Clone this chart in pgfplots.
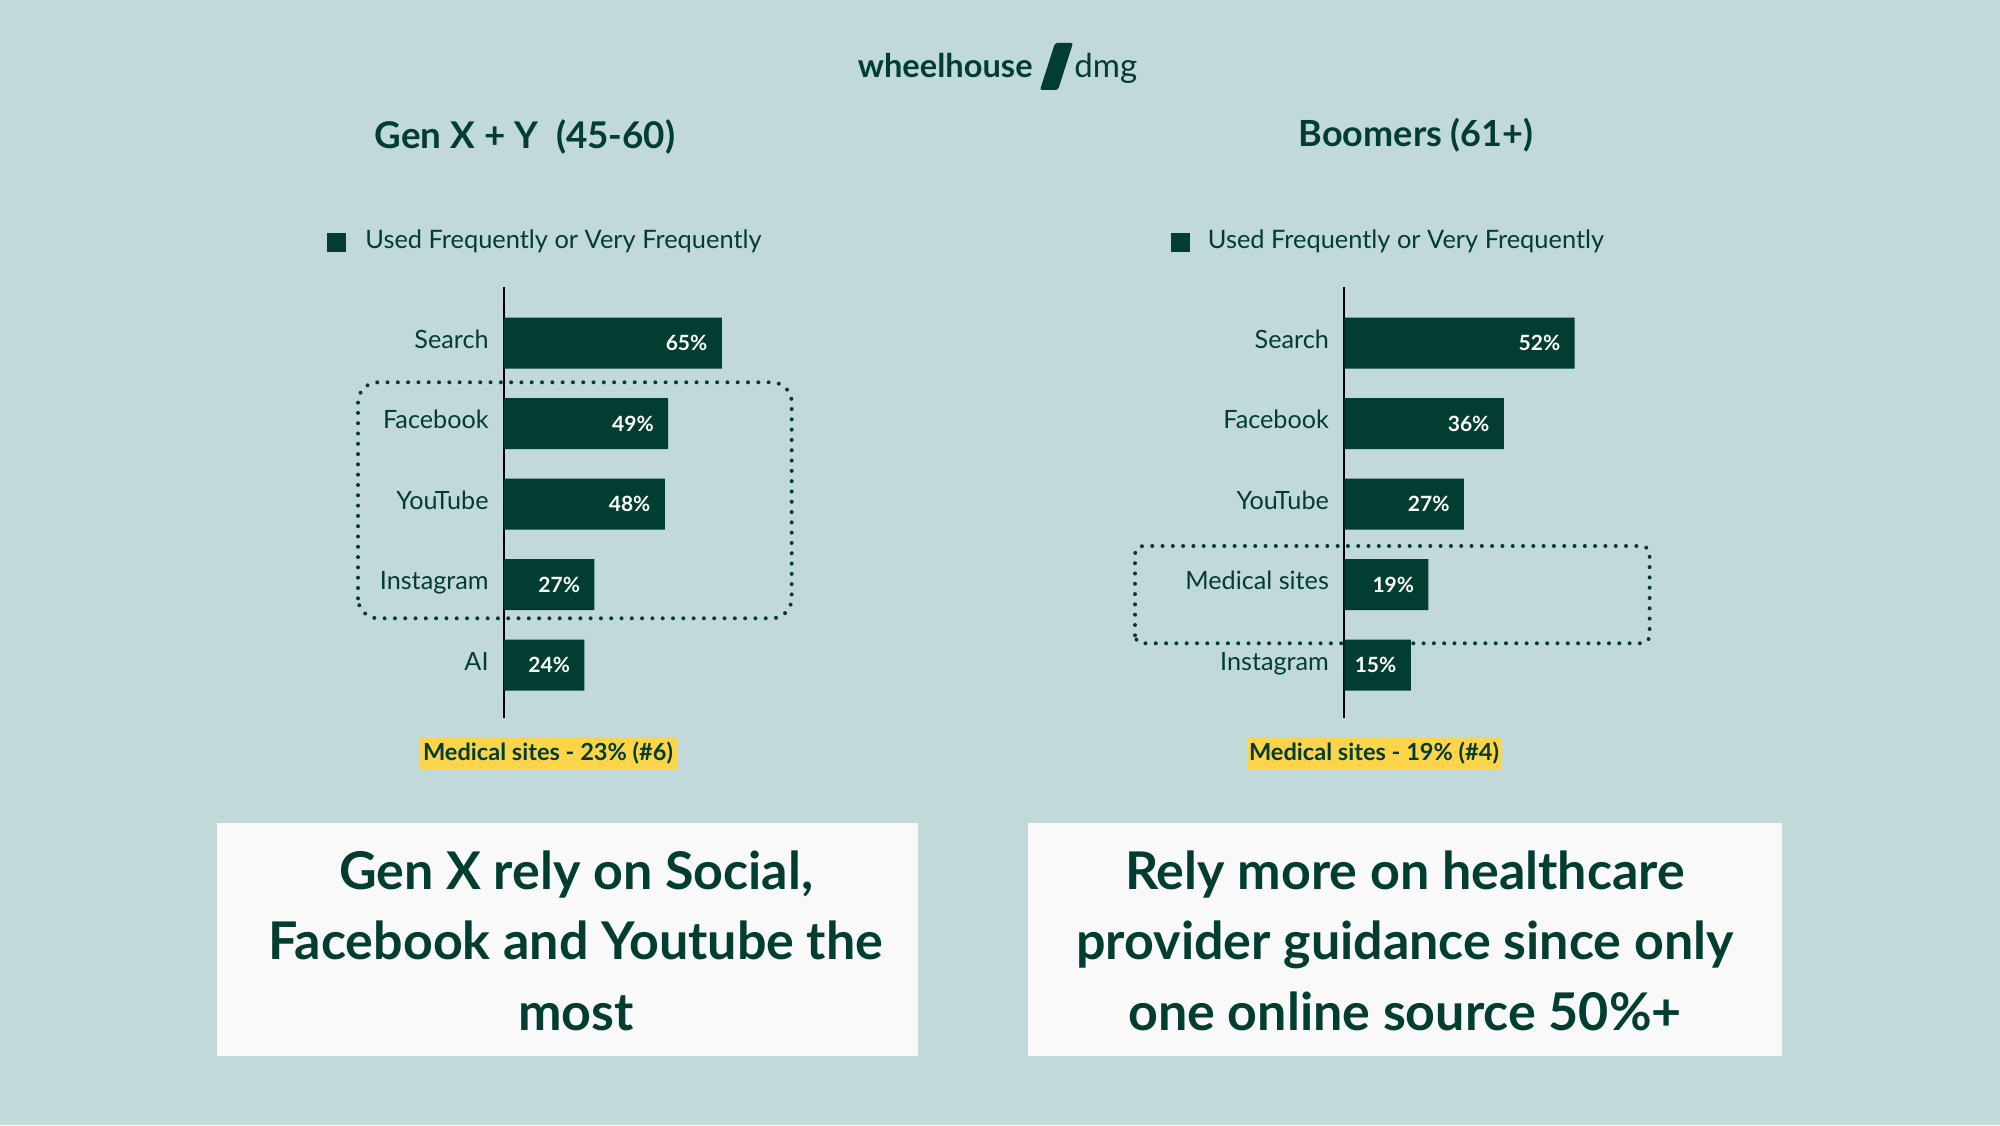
\documentclass[border=0pt]{standalone}
\usepackage{fontspec}
\setmainfont{Lato}
\usepackage{pgfplots}
\usepackage{pgfplotstable}
\pgfplotsset{compat=1.18}
\definecolor{bg}{HTML}{C1D9D9}
\definecolor{dk}{HTML}{013D31}
\definecolor{yl}{HTML}{FDD44A}
\definecolor{wb}{HTML}{F9F9F9}

\pgfplotstableread{
y val
0 65
1 49
2 48
3 27
4 24
}\leftdata
\pgfplotstableread{
y val
0 52
1 36
2 27
3 19
4 15
}\rightdata

\pgfplotsset{mybar/.style={
  scale only axis, xbar, bar width=25.5pt, height=215.8pt,
  xmin=0, xmax=100, ymin=-0.7, ymax=4.66, y dir=reverse,
  axis x line=none, axis y line*=left,
  y axis line style={black, line width=1pt},
  ytick={0,1,2,3,4}, major tick length=0pt, ytick style={draw=none},
  yticklabel style={anchor=east, inner sep=0pt, xshift=-7.5pt, yshift=2pt,
    font=\fontsize{12.6}{14}\selectfont, text=dk, text height=9pt, text depth=0pt},
  point meta=x,
  /pgf/number format/assume math mode=true,
  nodes near coords={\pgfmathprintnumber{\pgfplotspointmeta}\%},
  every node near coord/.append style={anchor=east, inner sep=0pt, text=white,
    font=\fontsize{10.5}{12}\bfseries\selectfont, xshift=-7pt},
  anchor=south west, clip=false,
}}

\begin{document}
\begin{tikzpicture}
\fill[bg] (0pt,0pt) rectangle (1000pt,562.5pt);
\path[use as bounding box] (0pt,0pt) rectangle (1000pt,562.5pt);

% logo
\node[anchor=base east, inner sep=0pt, text=dk, font=\fontsize{16.3}{18}\bfseries\selectfont] at (516.5pt,523.5pt) {wheelhouse};
\fill[dk, rounded corners=1pt] (520pt,517.5pt) -- (529pt,517.5pt) -- (536.5pt,541pt) -- (527.5pt,541pt) -- cycle;
\node[anchor=base west, inner sep=0pt, text=dk, font=\fontsize{16.5}{18}\selectfont] at (537pt,523.5pt) {dmg};

% titles
\node[anchor=base, inner sep=0pt, text=dk, font=\fontsize{18.4}{22}\bfseries\selectfont] at (262.5pt,488pt) {Gen X + Y~ (45-60)};
\node[anchor=base, inner sep=0pt, text=dk, font=\fontsize{18}{22}\bfseries\selectfont] at (708pt,489pt) {Boomers (61+)};

% legends
\fill[dk] (163.5pt,436.5pt) rectangle (173pt,446pt);
\node[anchor=base west, inner sep=0pt, text=dk, font=\fontsize{12.7}{14}\selectfont] at (182.5pt,438pt) {Used Frequently or Very Frequently};
\fill[dk] (585.5pt,436.5pt) rectangle (594.8pt,446pt);
\node[anchor=base west, inner sep=0pt, text=dk, font=\fontsize{12.7}{14}\selectfont] at (603.75pt,438pt) {Used Frequently or Very Frequently};

% left chart
\begin{axis}[mybar, at={(252pt,203.35pt)}, width=167.5pt,
  yticklabels={Search,Facebook,YouTube,Instagram,AI}]
\addplot[fill=dk, draw=none] table[x=val, y=y] {\leftdata};
\end{axis}

% right chart
\begin{axis}[mybar, at={(672.15pt,203.35pt)}, width=221.5pt,
  yticklabels={Search,Facebook,YouTube,Medical sites,Instagram}]
\addplot[fill=dk, draw=none] table[x=val, y=y] {\rightdata};
\end{axis}

% dotted boxes
\draw[dk, line width=2pt, line cap=round, dash pattern=on 0pt off 5.15pt, rounded corners=10pt]
  (179pt,253.35pt) rectangle (395.85pt,371.35pt);
\draw[dk, line width=2pt, line cap=round, dash pattern=on 0pt off 5.15pt, rounded corners=4pt]
  (567.5pt,240.85pt) rectangle (824.8pt,289.5pt);

% highlights
\node[fill=yl, inner sep=0pt, minimum width=129pt, minimum height=16.5pt, text=dk,
  font=\fontsize{11.8}{12}\bfseries\selectfont] at (274pt,185.75pt) {Medical sites - 23\% (\#6)};
\node[fill=yl, inner sep=0pt, minimum width=127pt, minimum height=16.5pt, text=dk,
  font=\fontsize{11.8}{12}\bfseries\selectfont] at (687pt,185.75pt) {Medical sites - 19\% (\#4)};

% bottom boxes
\fill[wb] (108.5pt,34.5pt) rectangle (459pt,151pt);
\fill[wb] (514pt,34.5pt) rectangle (891pt,151pt);
\begin{scope}[every node/.style={anchor=base, inner sep=0pt, text=dk, font=\fontsize{26}{30}\bfseries\selectfont}]
\node at (288pt,118pt) {Gen X rely on Social,};
\node at (288pt,82.75pt) {Facebook and Youtube the};
\node at (288pt,47.5pt) {most};
\node at (702.5pt,118pt) {Rely more on healthcare};
\node at (702.5pt,82.75pt) {provider guidance since only};
\node at (702.5pt,47.5pt) {one online source 50\%+};
\end{scope}
\end{tikzpicture}
\end{document}
